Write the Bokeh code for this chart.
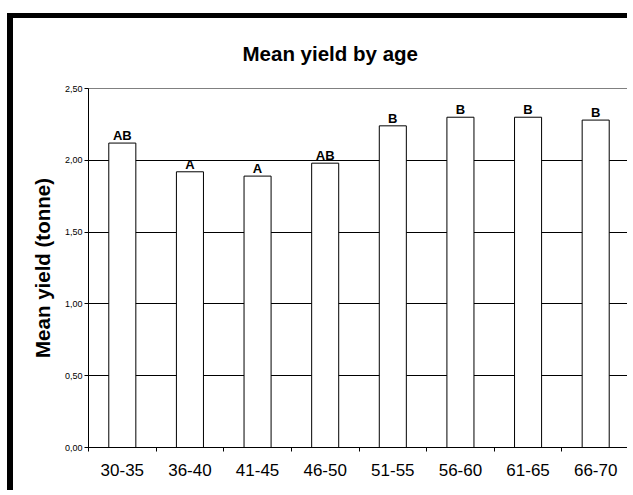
from bokeh.plotting import figure
from bokeh.models import ColumnDataSource, FixedTicker, Range1d
from bokeh.core.properties import value
from bokeh.embed import file_html
from bokeh.resources import INLINE

categories = ["30-35", "36-40", "41-45", "46-50", "51-55", "56-60", "61-65", "66-70"]
mean_yield = [2.12, 1.92, 1.89, 1.98, 2.24, 2.30, 2.30, 2.28]
groups = ["AB", "A", "A", "AB", "B", "B", "B", "B"]
y_ticks = [0.0, 0.5, 1.0, 1.5, 2.0, 2.5]
y_tick_labels = ["0,00", "0,50", "1,00", "1,50", "2,00", "2,50"]

FONT = "Liberation Sans"

x_pos = [i + 0.5 for i in range(len(categories))]
src = ColumnDataSource(dict(x=x_pos, top=mean_yield, label=groups))

W, H = 620, 477

# thick black chart-area frame on the left and top edges (CSS border of the figure)
p = figure(width=W, height=H, output_backend="svg", toolbar_location=None,
           x_range=Range1d(0, len(categories)), y_range=Range1d(y_ticks[0], y_ticks[-1]),
           min_border_left=75, min_border_right=4, min_border_top=70, min_border_bottom=48,
           styles={"border-left": "6px solid black", "border-top": "5px solid black",
                   "margin-left": "7px", "margin-top": "13px"})

p.background_fill_color = "white"
p.border_fill_color = "white"
p.outline_line_color = "#808080"
p.outline_line_width = 1

# title
p.title.text = "Mean yield by age"
p.title.text_font = FONT
p.title.text_font_size = "20.5px"
p.title.text_font_style = "bold"
p.title.text_color = "black"
p.title.align = "left"
p.title.vertical_align = "top"
p.title.offset = 154
p.title.standoff = 44

# grid
p.xgrid.visible = False
p.ygrid.ticker = FixedTicker(ticks=y_ticks[1:-1])
p.ygrid.grid_line_color = "black"
p.ygrid.grid_line_width = 1

# y axis
p.yaxis.ticker = FixedTicker(ticks=y_ticks)
p.yaxis.major_label_overrides = dict(zip(y_ticks, y_tick_labels))
p.yaxis.major_tick_out = 4
p.yaxis.major_tick_in = 0
p.yaxis.minor_tick_out = 0
p.yaxis.minor_tick_in = 0
p.yaxis.major_label_standoff = 2
p.yaxis.major_label_text_font = FONT
p.yaxis.major_label_text_font_size = "9px"
p.yaxis.major_label_text_color = "black"
p.yaxis.axis_line_color = "black"
p.yaxis.major_tick_line_color = "black"
p.yaxis.axis_label = "Mean yield (tonne)"
p.yaxis.axis_label_text_font = FONT
p.yaxis.axis_label_text_font_size = "20.5px"
p.yaxis.axis_label_text_font_style = "bold"
p.yaxis.axis_label_text_color = "black"
p.yaxis.axis_label_standoff = 8

# x axis: labels at category centres, tick marks at boundaries
p.xaxis.ticker = FixedTicker(ticks=x_pos, minor_ticks=list(range(len(categories) + 1)))
p.xaxis.major_label_overrides = dict(zip(x_pos, categories))
p.xaxis.major_tick_out = 0
p.xaxis.major_tick_in = 0
p.xaxis.minor_tick_out = 4
p.xaxis.minor_tick_in = 0
p.xaxis.minor_tick_line_color = "black"
p.xaxis.major_label_standoff = 12
p.xaxis.major_label_text_font = FONT
p.xaxis.major_label_text_font_size = "17px"
p.xaxis.major_label_text_color = "black"
p.xaxis.axis_line_color = "black"

p.vbar(x="x", top="top", width=0.4, source=src,
       fill_color="white", line_color="black", line_width=1)

p.text(x="x", y="top", text="label", source=src,
       text_align="center", text_baseline="bottom",
       text_font=value(FONT), text_font_style="bold", text_font_size="13px",
       text_color="black")

open("out.html", "w").write(file_html(p, INLINE))
